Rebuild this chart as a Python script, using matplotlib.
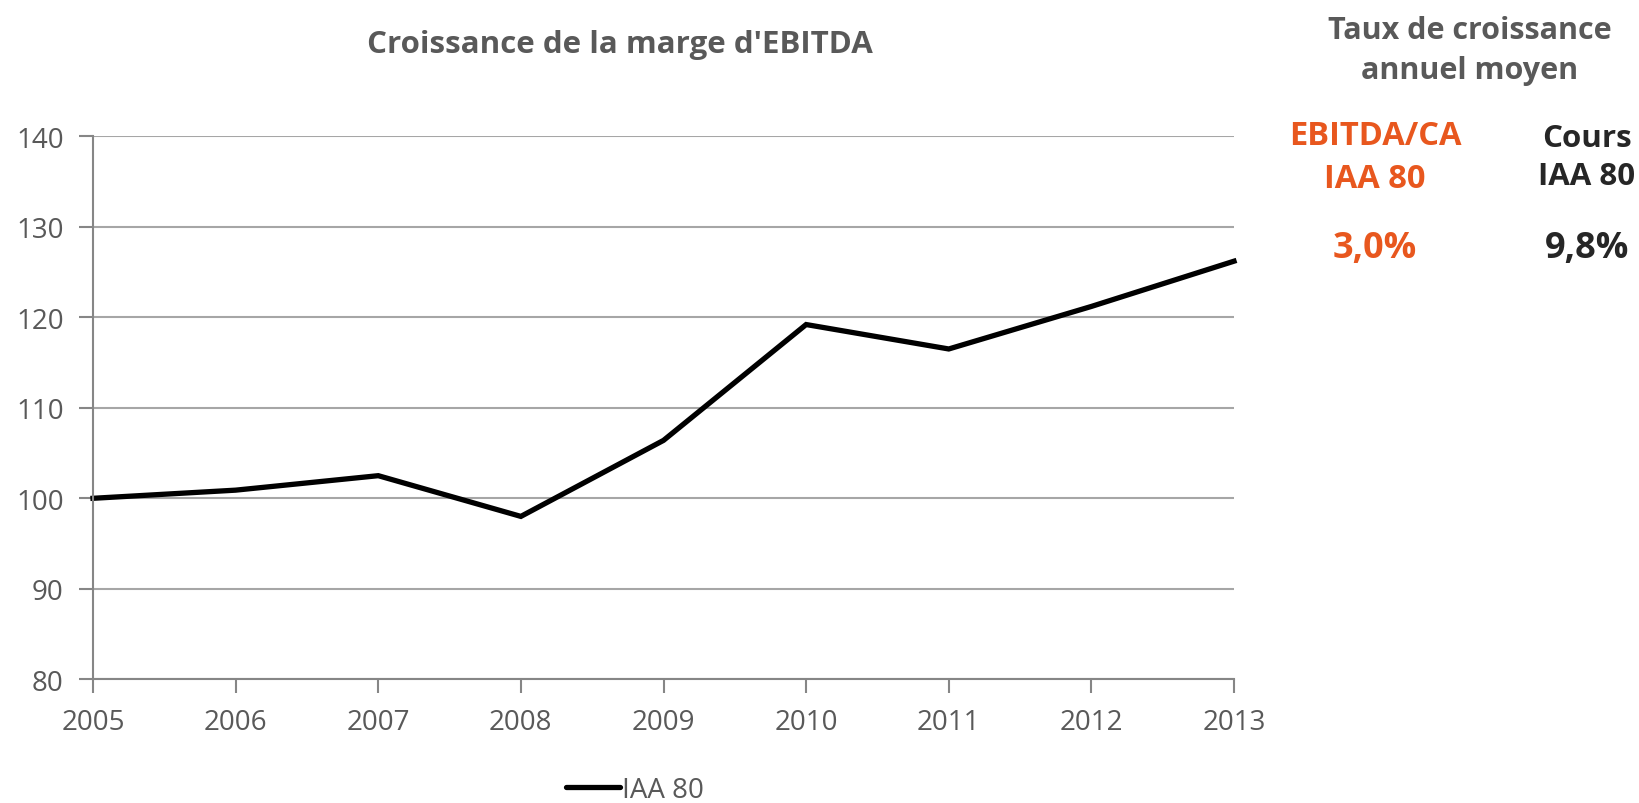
import matplotlib
matplotlib.use("Agg")
import matplotlib.pyplot as plt
from matplotlib.lines import Line2D

plt.rcParams['font.family'] = ['Open Sans', 'DejaVu Sans']

years = [2005, 2006, 2007, 2008, 2009, 2010, 2011, 2012, 2013]
iaa80 = [100.0, 100.9, 102.5, 98.0, 106.4, 119.2, 116.5, 121.2, 126.2]
y_ticks = [80, 90, 100, 110, 120, 130, 140]

title = "Croissance de la marge d'EBITDA"
side_title = "Taux de croissance\nannuel moyen"
col_labels = ["EBITDA/CA\nIAA 80", "Cours\nIAA 80"]
col_label_sizes = [23.5, 22.5]
col_values = ["3,0%", "9,8%"]
col_colors = ["#E8571E", "#262626"]

grey_text = "#595959"
grid_col = "#A6A6A6"
axis_col = "#868686"

W, H = 1640, 804
fig = plt.figure(figsize=(W / 100, H / 100), dpi=100)
ax = fig.add_axes([93 / W, 1 - 680.3 / H, (1234 - 93) / W, (680.3 - 137.3) / H])

ax.plot(years, iaa80, color="black", lw=3.8, solid_joinstyle="miter", label="IAA 80", clip_on=False)

ax.set_xlim(years[0], years[-1])
ax.set_ylim(y_ticks[0], y_ticks[-1])
ax.set_xticks(years)
ax.set_yticks(y_ticks)
ax.yaxis.grid(True, color=grid_col, lw=1.5)
ax.set_axisbelow(True)
for s in ["top", "right"]:
    ax.spines[s].set_visible(False)
for s in ["left", "bottom"]:
    ax.spines[s].set_color(axis_col)
    ax.spines[s].set_linewidth(1.5)
ax.tick_params(axis="both", colors=axis_col, length=10, width=1.5, labelsize=20, labelcolor=grey_text)
ax.tick_params(axis="x", pad=11)
ax.tick_params(axis="y", pad=11)

fig.text(620 / W, 1 - 45 / H, title, ha="center", va="center",
         fontsize=22.5, fontweight="bold", color=grey_text)

fig.text(1470 / W, 1 - 51 / H, side_title, ha="center", va="center",
         fontsize=22, fontweight="bold", color=grey_text, linespacing=1.45)

for cx, lab, fs, val, col in zip([1375, 1587], col_labels, col_label_sizes, col_values, col_colors):
    fig.text(cx / W, 1 - 158 / H, lab, ha="center", va="center",
             fontsize=fs, fontweight="bold", color=col, linespacing=1.38)
    fig.text(cx / W, 1 - 249 / H, val, ha="center", va="center",
             fontsize=26, fontweight="bold", color=col)

handle = Line2D([0], [0], color="black", lw=3.8, solid_capstyle="round")
fig.legend([handle], ["IAA 80"], loc="center left", bbox_to_anchor=(566 / W, 1 - 791 / H),
           frameon=False, fontsize=20, labelcolor=grey_text, handlelength=1.95,
           handletextpad=0.05, borderaxespad=0, borderpad=0)

fig.savefig("out.png", dpi=100)
